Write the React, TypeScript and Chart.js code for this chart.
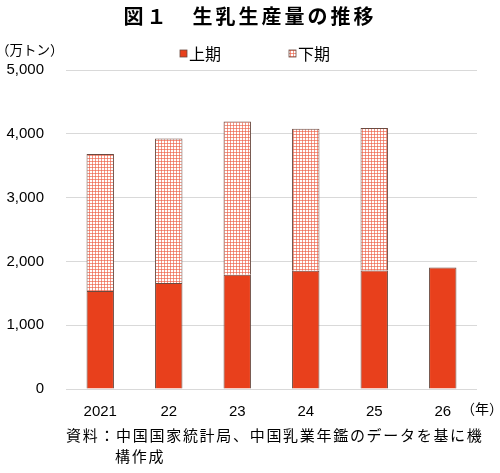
import React, { useEffect, useRef } from "react";
import { Chart, registerables } from "chart.js";

Chart.register(...registerables);

const categories = ["2021", "22", "23", "24", "25", "26"];
const firstHalf = [1536, 1661, 1792, 1854, 1859, 1906];
const secondHalf = [2147, 2267, 2402, 2226, 2231, null];
const yTicks = [0, 1000, 2000, 3000, 4000, 5000];

const TITLE = "図１　生乳生産量の推移";
const Y_UNIT = "（万トン）";
const X_UNIT = "（年）";
const LEGEND = ["上期", "下期"];
const NOTE1 = "資料：中国国家統計局、中国乳業年鑑のデータを基に機";
const NOTE2 = "構作成";

const RED = "#e8401c";
const BORDER = "#6b4a40";
const FONT_NUM = "'Liberation Sans', Arial, sans-serif";
const FONT_JP = "'Noto Sans CJK JP', sans-serif";

function makePattern(): CanvasPattern | string {
  const c = document.createElement("canvas");
  c.width = 3;
  c.height = 3;
  const g = c.getContext("2d");
  if (!g) return "#f4b0a0";
  g.fillStyle = "#ffffff";
  g.fillRect(0, 0, 3, 3);
  g.fillStyle = "rgba(236,96,70,0.65)";
  g.fillRect(0, 2, 3, 1);
  g.fillRect(2, 0, 1, 3);
  const p = g.createPattern(c, "repeat");
  return p || "#f4b0a0";
}

export default function App() {
  const ref = useRef<HTMLCanvasElement | null>(null);

  useEffect(() => {
    if (!ref.current) return;
    const pattern = makePattern();

    const overlay = {
      id: "overlay",
      afterDraw(chart: any) {
        const ctx = chart.ctx as CanvasRenderingContext2D;
        ctx.save();
        ctx.fillStyle = "#000";
        ctx.textBaseline = "middle";
        ctx.textAlign = "left";
        ctx.font = `13.5px ${FONT_JP}`;
        ctx.fillText(Y_UNIT, -4, 50);
        ctx.font = `14px ${FONT_JP}`;
        ctx.fillText(X_UNIT, 461, 409);
        // legend
        const items = [
          { x: 180, fill: RED },
          { x: 289, fill: pattern },
        ];
        items.forEach((it, i) => {
          ctx.fillStyle = it.fill as any;
          ctx.fillRect(it.x, 50, 7, 7);
          ctx.strokeStyle = BORDER;
          ctx.lineWidth = 0.8;
          ctx.strokeRect(it.x, 50, 7, 7);
          ctx.fillStyle = "#000";
          ctx.font = `16px ${FONT_JP}`;
          ctx.fillText(LEGEND[i], it.x + 9, 53.5);
        });
        ctx.restore();
      },
    };

    const chart = new Chart(ref.current, {
      type: "bar",
      data: {
        labels: categories,
        datasets: [
          {
            label: LEGEND[0],
            data: firstHalf,
            backgroundColor: RED,
            borderColor: BORDER,
            borderWidth: 1,
            barPercentage: 0.5,
            categoryPercentage: 0.8,
          },
          {
            label: LEGEND[1],
            data: secondHalf as any,
            backgroundColor: pattern as any,
            borderColor: BORDER,
            borderWidth: 1,
            barPercentage: 0.5,
            categoryPercentage: 0.8,
          },
        ],
      },
      options: {
        responsive: false,
        animation: false,
        devicePixelRatio: 1,
        layout: { padding: { top: 70, bottom: 34, left: 0, right: 23 } },
        plugins: {
          legend: { display: false },
          title: { display: false },
          tooltip: { enabled: false },
        },
        scales: {
          x: {
            stacked: true,
            grid: { display: false },
            border: { display: false },
            ticks: {
              color: "#000",
              padding: 6,
              font: { family: FONT_NUM, size: 15 },
            },
            afterFit: (axis: any) => {
              axis.height = 50;
            },
          },
          y: {
            stacked: true,
            min: 0,
            max: 5000,
            afterBuildTicks: (axis: any) => {
              axis.ticks = yTicks.map((v) => ({ value: v }));
            },
            grid: { color: "#d9d9d9", lineWidth: 1, drawTicks: false },
            border: { display: false },
            ticks: {
              color: "#000",
              padding: 22,
              font: { family: FONT_NUM, size: 15 },
              callback: (v: any) => Number(v).toLocaleString("en-US"),
            },
            afterFit: (axis: any) => {
              axis.width = 66;
            },
          },
        },
      },
      plugins: [overlay],
    });
    return () => chart.destroy();
  }, []);

  return (
    <div style={{ position: "fixed", left: 0, top: 0, width: 500, height: 473, background: "#fff" }}>
      <canvas ref={ref} width={500} height={473} style={{ position: "absolute", left: 0, top: 0 }} />
      <div
        style={{
          position: "absolute",
          left: 0,
          top: 2,
          width: 500,
          textAlign: "center",
          fontFamily: FONT_JP,
          fontWeight: "bold",
          fontSize: 20,
          letterSpacing: 3,
          lineHeight: "28px",
          color: "#000",
        }}
      >
        {TITLE}
      </div>
      <div
        style={{
          position: "absolute",
          left: 66,
          top: 424,
          fontFamily: FONT_JP,
          fontSize: 15,
          letterSpacing: 1.7,
          lineHeight: "21px",
          whiteSpace: "nowrap",
          color: "#000",
        }}
      >
        <div>{NOTE1}</div>
        <div style={{ paddingLeft: 49 }}>{NOTE2}</div>
      </div>
    </div>
  );
}
